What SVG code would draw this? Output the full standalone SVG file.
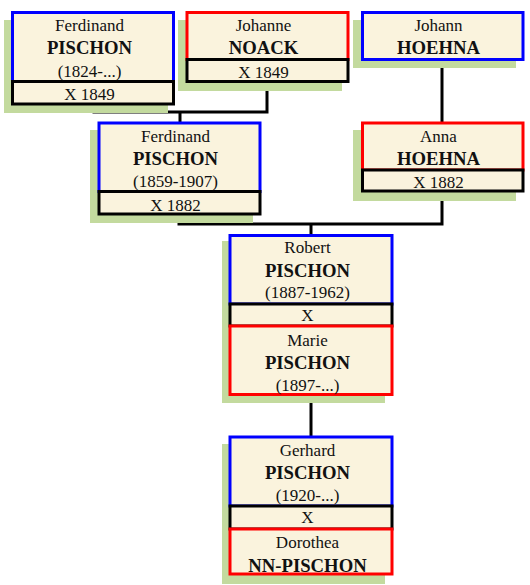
<svg xmlns="http://www.w3.org/2000/svg" width="530" height="585" viewBox="0 0 530 585">
<style>
.sh{fill:#c3da9e}
.bx{fill:#faf3dd;stroke-width:3}
.m{stroke:#000}
.b{stroke:#0000ff}
.r{stroke:#ff0000}
.c{fill:none;stroke:#000;stroke-width:3}
text{font-family:"Liberation Serif","Times New Roman",serif;font-size:17px;fill:#111;text-anchor:middle}
.n{font-weight:bold;font-size:18.7px}
</style>
<rect width="530" height="585" fill="#fff"/>
<g id="connectors">
<polyline class="c" points="94,104 94,112 267,112 267,81.5"/>
<line class="c" x1="180" y1="112" x2="180" y2="123"/>
<line class="c" x1="442" y1="59.5" x2="442" y2="123"/>
<polyline class="c" points="179,214 179,224 442,224 442,191"/>
<line class="c" x1="311" y1="224" x2="311" y2="235.5"/>
<line class="c" x1="311" y1="394.5" x2="311" y2="437"/>
</g>
<g id="n1">
<rect class="sh" x="4" y="20" width="164" height="93"/>
<rect class="bx b" x="12.5" y="12.5" width="161" height="69"/>
<rect class="bx m" x="12.5" y="81.5" width="161" height="22.5"/>
<text x="89.5" y="31">Ferdinand</text>
<text class="n" x="89.5" y="54">PISCHON</text>
<text x="89.5" y="77">(1824-...)</text>
<text x="89.5" y="100">X 1849</text>
</g>
<g id="n2">
<rect class="sh" x="178" y="20" width="164" height="71"/>
<rect class="bx r" x="187" y="12.5" width="161" height="47"/>
<rect class="bx m" x="187" y="59.5" width="161" height="22"/>
<text x="263.5" y="31">Johanne</text>
<text class="n" x="263.5" y="54">NOACK</text>
<text x="263.5" y="78">X 1849</text>
</g>
<g id="n3">
<rect class="sh" x="353" y="20" width="163" height="48"/>
<rect class="bx b" x="362.5" y="12.5" width="160.5" height="47"/>
<text x="438.5" y="31">Johann</text>
<text class="n" x="438.5" y="54">HOEHNA</text>
</g>
<g id="n4">
<rect class="sh" x="90" y="130" width="163" height="93"/>
<rect class="bx b" x="99" y="123" width="161" height="68.5"/>
<rect class="bx m" x="99" y="191.5" width="161" height="22.5"/>
<text x="175.5" y="142">Ferdinand</text>
<text class="n" x="175.5" y="165">PISCHON</text>
<text x="175.5" y="187">(1859-1907)</text>
<text x="175.5" y="211">X 1882</text>
</g>
<g id="n5">
<rect class="sh" x="353" y="130" width="163" height="71"/>
<rect class="bx r" x="362.5" y="123" width="160.5" height="47"/>
<rect class="bx m" x="362.5" y="170" width="160.5" height="21"/>
<text x="438.5" y="142">Anna</text>
<text class="n" x="438.5" y="165">HOEHNA</text>
<text x="438.5" y="188">X 1882</text>
</g>
<g id="n6">
<rect class="sh" x="222" y="241" width="163" height="162"/>
<rect class="bx b" x="230" y="235.5" width="162" height="68.5"/>
<rect class="bx m" x="230" y="304" width="162" height="22"/>
<rect class="bx r" x="230" y="326" width="162" height="68.5"/>
<text x="307.5" y="253">Robert</text>
<text class="n" x="307.5" y="277">PISCHON</text>
<text x="307.5" y="298">(1887-1962)</text>
<text x="307.5" y="321">X</text>
<text x="307.5" y="346">Marie</text>
<text class="n" x="307.5" y="369">PISCHON</text>
<text x="307.5" y="391">(1897-...)</text>
</g>
<g id="n7">
<rect class="sh" x="222" y="444" width="163" height="140"/>
<rect class="bx b" x="230" y="437" width="162" height="69"/>
<rect class="bx m" x="230" y="506" width="162" height="23"/>
<rect class="bx r" x="230" y="529" width="162" height="45"/>
<text x="307.5" y="456">Gerhard</text>
<text class="n" x="307.5" y="479">PISCHON</text>
<text x="307.5" y="501">(1920-...)</text>
<text x="307.5" y="523">X</text>
<text x="307.5" y="548">Dorothea</text>
<text class="n" x="307.5" y="572">NN-PISCHON</text>
</g>
</svg>
